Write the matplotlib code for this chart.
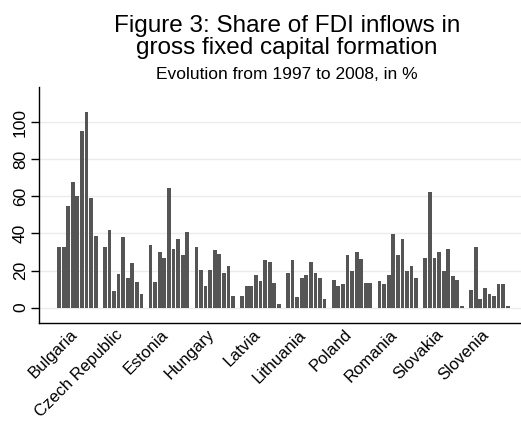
import matplotlib
matplotlib.use("Agg")
import matplotlib.pyplot as plt
import matplotlib.transforms as mtransforms
import numpy as np

plt.rcParams['font.family'] = ['Liberation Sans', 'DejaVu Sans']

countries = ['Bulgaria', 'Czech Republic', 'Estonia', 'Hungary', 'Latvia',
             'Lithuania', 'Poland', 'Romania', 'Slovakia', 'Slovenia']

# share of FDI inflows in GFCF, %, one value per year in each country
bulgaria = [32.7, 32.7, 54.7, 67.6, 60.0, 95.0, 105.4, 59.0, 38.8]
czech = [32.7, 41.7, 9.0, 18.0, 38.0, 16.0, 24.0, 13.7, 7.2]
estonia = [33.8, 13.7, 30.0, 26.6, 64.3, 31.8, 37.0, 28.4, 40.6]
hungary = [32.7, 20.5, 11.7, 20.3, 30.9, 29.1, 18.7, 22.3, 6.3]
latvia = [6.3, 11.7, 11.7, 17.8, 14.2, 25.5, 24.6, 13.5, 2.0]
lithuania = [18.7, 25.5, 5.6, 16.0, 17.8, 24.6, 18.7, 16.0, 4.7]
poland = [15.1, 11.7, 12.6, 28.4, 19.6, 30.0, 26.4, 13.5, 13.5]
romania = [14.2, 12.6, 17.8, 39.7, 28.4, 37.0, 19.6, 22.3, 16.0]
slovakia = [26.6, 62.6, 26.6, 30.0, 19.6, 31.8, 16.9, 15.1, 1.0]
slovenia = [9.4, 32.7, 4.7, 10.8, 7.2, 6.5, 12.6, 12.6, 1.0]

series = [bulgaria, czech, estonia, hungary, latvia,
          lithuania, poland, romania, slovakia, slovenia]

fig = plt.figure(figsize=(5.21, 4.26), dpi=100)
ax = fig.add_axes([39 / 521, 1 - 323 / 426, 482 / 521, 236 / 426])

gap = 1
for g, vals in enumerate(series):
    x = g * (len(vals) + gap) + np.arange(len(vals))
    ax.bar(x, vals, width=0.82, color='#555555', zorder=2)

ax.set_xlim(-4.38, 100.9)
ax.set_ylim(-8.3, 119)

ax.set_yticks([0, 20, 40, 60, 80, 100])
ax.set_yticklabels(['0', '20', '40', '60', '80', '100'], rotation=90, va='center')
ax.tick_params(axis='y', length=6, width=1, labelsize=12.5, pad=2)
ax.yaxis.grid(True, color='#ebebeb', linewidth=1, zorder=0)

centers = [g * 10 + 4 for g in range(len(countries))]
ax.set_xticks(centers)
ax.set_xticklabels(countries, rotation=45, ha='right', rotation_mode='anchor')
ax.tick_params(axis='x', length=0, labelsize=12, pad=5)
# nudge the slanted labels a bit up-left
shift = mtransforms.ScaledTranslation(-8 / 100, 3 / 100, fig.dpi_scale_trans)
for lab in ax.get_xticklabels():
    lab.set_transform(lab.get_transform() + shift)

ax.spines['top'].set_visible(False)
ax.spines['right'].set_visible(False)
ax.spines['left'].set_linewidth(1)
ax.spines['bottom'].set_linewidth(1)

# title lines placed one by one
fig.text(0.551, 1 - 31.7 / 426, 'Figure 3: Share of FDI inflows in',
         ha='center', va='baseline', fontsize=17.5)
fig.text(0.551, 1 - 54.3 / 426, 'gross fixed capital formation',
         ha='center', va='baseline', fontsize=17.5)
fig.text(0.551, 1 - 79 / 426, 'Evolution from 1997 to 2008, in %',
         ha='center', va='baseline', fontsize=12.5)

fig.savefig('out.png', dpi=100)
